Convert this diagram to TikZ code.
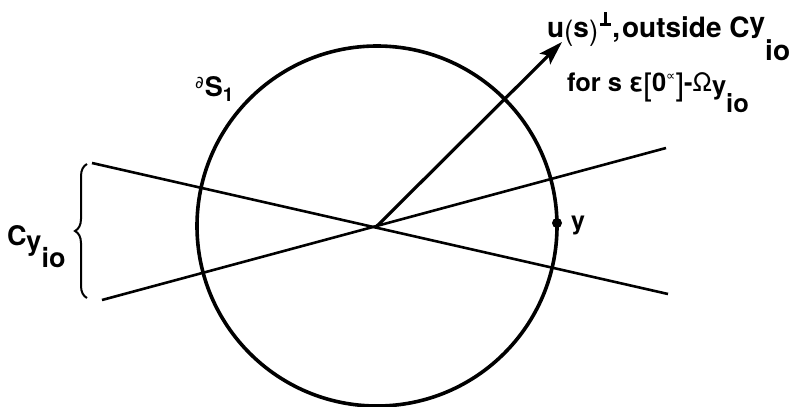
\documentclass[tikz,border=0pt]{standalone}
\usepackage{fontspec}
\setmainfont{TeX Gyre Heros}
\newfontfamily\symf{DejaVu Sans}
\usetikzlibrary{arrows.meta,decorations.pathreplacing}
\newcommand{\myperp}{\raisebox{11pt}{\ooalign{\hfil\rule{3pt}{14pt}\hfil\cr\rule{11pt}{2.8pt}\cr}}}
\begin{document}
\begin{tikzpicture}[x=1pt,y=-1pt,
  thinline/.style={line width=2.6pt},
  thickline/.style={line width=3.6pt},
  lbl/.style={anchor=base west,inner sep=0pt,outer sep=0pt},
  bigfont/.style={font=\fontsize{28}{28}\selectfont\bfseries},
  midfont/.style={font=\fontsize{25.5}{26}\selectfont\bfseries},
  smallfont/.style={font=\fontsize{25}{25}\selectfont\bfseries}]
\useasboundingbox (0,0) rectangle (801,407);
\coordinate (O) at (377,226);
\node[circle,draw,thickline,minimum size=360pt,inner sep=0pt] (S) at (O) {};
\coordinate (L1a) at (92,163);
\coordinate (L1b) at (668,294);
\coordinate (L2a) at (102,300);
\coordinate (L2b) at (666,148);
\draw[thinline] (L1a) -- (L1b);
\draw[thinline] (L2a) -- (L2b);
\coordinate (A) at (562,42);
\draw[line width=3.2pt,-{Stealth[length=24pt,width=15pt,inset=5pt]}] (O) -- (A);
\node[circle,fill=black,inner sep=0pt,minimum size=10pt] (yp) at (557,223) {};
\node[lbl,smallfont] (ylab) at (571,229) {y};
\coordinate (Bb) at (87,298);
\coordinate (Bt) at (87,164);
\draw[line width=2pt,decorate,decoration={brace,amplitude=12pt,aspect=0.5}] (Bb) -- (Bt);
\node[lbl,font=\fontsize{27}{27}\selectfont\bfseries] (clab) at (7,245)
  {C\raisebox{-5pt}{y}\raisebox{-22pt}{io}};
\node[lbl,font=\fontsize{27}{27}\selectfont\bfseries] (dS) at (195,96)
  {\raisebox{8pt}{\symf\mdseries\fontsize{17}{17}\selectfont ∂}\kern1pt S\raisebox{-5pt}{\fontsize{19}{19}\selectfont 1}};
\node[lbl,bigfont] (t1) at (547,37)
  {u\raisebox{-3pt}{\mdseries(}s\raisebox{-3pt}{\mdseries)}\kern2pt\myperp\kern1pt,\kern2pt outside C\raisebox{5pt}{y}\raisebox{-23pt}{io}};
\node[lbl,midfont] (t2) at (567,91)
  {for s ε\raisebox{-4pt}{\mdseries\fontsize{31}{31}\selectfont[}0\raisebox{11pt}{\symf\mdseries\fontsize{13}{13}\selectfont ∝}\raisebox{-4pt}{\mdseries\fontsize{31}{31}\selectfont]}-{\mdseries Ω}\raisebox{-3pt}{y}\raisebox{-21pt}{io}};
\end{tikzpicture}
\end{document}
